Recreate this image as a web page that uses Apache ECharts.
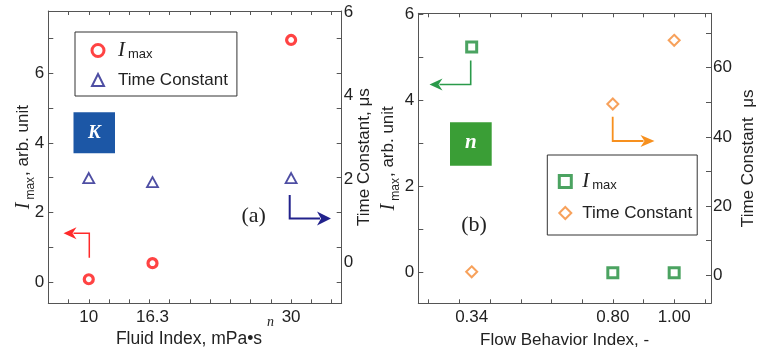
<!DOCTYPE html>
<html><head><meta charset="utf-8">
<script src="https://cdn.jsdelivr.net/npm/echarts@6/dist/echarts.min.js"></script>
<style>html,body{margin:0;padding:0;background:#fff}#c{width:770px;height:358px}</style>
</head><body><div id="c"></div>
<script>
// ---- Panel (a): fluid index K ----
const fluidIndex   = [10, 16.3, 30];
const imaxA        = [0.09, 0.55, 6.95];
const timeConstA   = [2.02, 1.92, 2.02];
// ---- Panel (b): flow behavior index n ----
const flowIndex    = [0.34, 0.80, 1.00];
const imaxB        = [5.24, 0.0, 0.0];
const timeConstB   = [1.0, 49.5, 67.9];
// ---- tick labels ----
const xLabelsA     = [10, 16.3, 30];
const xLabelsB     = [0.34, 0.80, 1.00];
const yLabelsImax  = [0, 2, 4, 6];
const yLabelsTcA   = [0, 2, 4, 6];
const yLabelsTcB   = [0, 20, 40, 60];
// ---- tick marks ----
const xTickMarksA  = [8,10,12,14,16,18,20,22,24,26,28,30,32,34];
const xTickMarksB  = [0.2,0.3,0.4,0.5,0.6,0.7,0.8,0.9,1.0,1.1];
const yTickMarksA  = [0,1,2,3,4,5,6,7];
const yTickMarksB  = [0,1,2,3,4,5,6];
const yTickMarksTcB= [0,10,20,30,40,50,60,70];

const SANS = 'Liberation Sans, Arial, sans-serif';
const SERIF = 'Liberation Serif, Times New Roman, serif';
const TXT = '#222';
const AX = '#555';
const RED = '#ff1414', NAVY = '#22228c', GREEN = '#1e8c3a', ORANGE = '#f58a32';
const pair = (xs, ys) => xs.map((x, i) => [x, ys[i]]);

const chart = echarts.init(document.getElementById('c'), null, {renderer: 'canvas'});

function baseAxis(extra) {
  return Object.assign({
    type: 'value', scale: true, nameMoveOverlap: false,
    axisLine: {show: true, onZero: false, lineStyle: {color: AX, width: 1}},
    splitLine: {show: false},
    axisTick: {show: true, inside: true, length: 5, lineStyle: {color: AX}},
    axisLabel: {color: TXT, fontSize: 17, fontFamily: SANS, margin: 5}
  }, extra);
}

const imaxRich = {
  i: {fontFamily: SERIF, fontStyle: 'italic', fontSize: 20, color: TXT},
  s: {fontFamily: SANS, fontSize: 12, color: TXT, verticalAlign: 'bottom', padding: [14, 1, 0, 3]},
  t: {fontFamily: SANS, fontSize: 17, color: TXT}
};
const legRich = {
  i: {fontFamily: SERIF, fontStyle: 'italic', fontSize: 21, color: TXT},
  s: {fontFamily: SANS, fontSize: 13, color: TXT, verticalAlign: 'bottom', padding: [6, 0, 0, 3]},
  t: {fontFamily: SANS, fontSize: 17, color: TXT}
};
const legFmt = n => n.indexOf('Imax') === 0 ? '{i|I}{s|max}' : '{t|Time Constant}';

function arrow(pts, dir, color, lw, L, W) {
  const tip = pts[pts.length - 1];
  const sx = dir === 'left' ? 1 : -1;
  const line = pts.slice(0, -1).concat([[tip[0] + sx * (L - 3), tip[1]]]);
  return [
    {type: 'polyline', shape: {points: line}, style: {stroke: color, lineWidth: lw, fill: null}, z: 10},
    {type: 'polygon', shape: {points: [[tip[0], tip[1]], [tip[0] + sx * L, tip[1] - W], [tip[0] + sx * (L - 4), tip[1]], [tip[0] + sx * L, tip[1] + W]]},
     style: {fill: color}, z: 10}
  ];
}

const option = {
  animation: false,
  backgroundColor: '#fff',
  grid: [
    {left: 48.3, right: 428.3, top: 11, bottom: 54.7, containLabel: false, outerBoundsMode: 'none'},
    {left: 418.3, right: 59, top: 13.3, bottom: 54.7, containLabel: false, outerBoundsMode: 'none'}
  ],
  xAxis: [
    baseAxis({gridIndex: 0, position: 'bottom', min: 6, max: 35,
      axisTick: {show: true, inside: true, length: 4, customValues: xTickMarksA, lineStyle: {color: AX}},
      axisLabel: {color: TXT, fontSize: 17, fontFamily: SANS, margin: 6, customValues: xLabelsA, formatter: v => String(v)},
      name: '{m|Fluid Index, mPa•s}{sup|n}', nameLocation: 'middle', nameGap: 11,
      nameTextStyle: {color: TXT, fontSize: 17, fontFamily: SANS,
        rich: {
          m: {fontFamily: SANS, fontSize: 17.5, color: TXT, lineHeight: 20, verticalAlign: 'bottom'},
          sup: {fontFamily: SERIF, fontStyle: 'italic', fontSize: 14, color: TXT, verticalAlign: 'top', padding: [1, 0, 19, 5]}
        }}}),
    baseAxis({gridIndex: 0, position: 'top', min: 6, max: 35,
      axisTick: {show: true, inside: true, length: 4, customValues: xTickMarksA, lineStyle: {color: AX}},
      axisLabel: {show: false}}),
    baseAxis({gridIndex: 1, position: 'bottom', min: 0.166, max: 1.12,
      axisTick: {show: true, inside: true, length: 4, customValues: xTickMarksB, lineStyle: {color: AX}},
      axisLabel: {color: TXT, fontSize: 17, fontFamily: SANS, margin: 6, customValues: xLabelsB, formatter: v => v.toFixed(2)},
      name: 'Flow Behavior Index, -', nameLocation: 'middle', nameGap: 27,
      nameTextStyle: {color: TXT, fontSize: 17, fontFamily: SANS, lineHeight: 20}}),
    baseAxis({gridIndex: 1, position: 'top', min: 0.166, max: 1.12,
      axisTick: {show: true, inside: true, length: 4, customValues: xTickMarksB, lineStyle: {color: AX}},
      axisLabel: {show: false}})
  ],
  yAxis: [
    baseAxis({gridIndex: 0, position: 'left', min: -0.6, max: 7.78,
      axisTick: {show: true, inside: true, length: 5, customValues: yTickMarksA, lineStyle: {color: AX}},
      axisLabel: {color: TXT, fontSize: 17, fontFamily: SANS, margin: 4, customValues: yLabelsImax},
      name: '{i|I}{s|max}{t|, arb. unit}', nameLocation: 'middle', nameRotate: 90, nameGap: 12,
      nameTextStyle: {rich: imaxRich}}),
    baseAxis({gridIndex: 0, position: 'right', min: -0.98, max: 6.02,
      axisTick: {show: false},
      axisLabel: {color: TXT, fontSize: 17, fontFamily: SANS, margin: 2, customValues: yLabelsTcA},
      name: 'Time Constant, μs', nameLocation: 'middle', nameRotate: 90, nameGap: 14,
      nameTextStyle: {color: TXT, fontSize: 17, fontFamily: SANS}}),
    baseAxis({gridIndex: 0, position: 'right', min: -0.6, max: 7.78,
      axisLine: {show: false},
      axisTick: {show: true, inside: true, length: 5, customValues: yTickMarksA, lineStyle: {color: AX}},
      axisLabel: {show: false}}),
    baseAxis({gridIndex: 1, position: 'left', min: -0.71, max: 6.02,
      axisTick: {show: true, inside: true, length: 5, customValues: yTickMarksB, lineStyle: {color: AX}},
      axisLabel: {color: TXT, fontSize: 17, fontFamily: SANS, margin: 4, customValues: yLabelsImax},
      name: '{i|I}{s|max}{t|, arb. unit}', nameLocation: 'middle', nameRotate: 90, nameGap: 17,
      nameTextStyle: {rich: imaxRich}}),
    baseAxis({gridIndex: 1, position: 'right', min: -8.1, max: 75.7,
      axisTick: {show: true, inside: true, length: 5, customValues: yTickMarksTcB, lineStyle: {color: AX}},
      axisLabel: {color: TXT, fontSize: 17, fontFamily: SANS, margin: 2, customValues: yLabelsTcB},
      name: 'Time Constant  μs', nameLocation: 'middle', nameRotate: 90, nameGap: 29,
      nameTextStyle: {color: TXT, fontSize: 17, fontFamily: SANS}})
  ],
  legend: [
    {data: [{name: 'Imax (a)', itemStyle: {borderWidth: 3}}, {name: 'Time Constant (a)', itemStyle: {borderWidth: 2}}],
     orient: 'vertical', left: 75, top: 32,
     padding: [8, 9, 6, 15.5], itemGap: 9, itemWidth: 12, itemHeight: 12,
     borderColor: '#333', borderWidth: 1, formatter: legFmt,
     textStyle: {rich: legRich, lineHeight: 20, padding: [0, 0, 0, 9]}},
    {data: [{name: 'Imax (b)', itemStyle: {borderWidth: 3}}, {name: 'Time Constant (b)', itemStyle: {borderWidth: 2}}],
     orient: 'vertical', left: 547.3, top: 155,
     padding: [16, 5, 12, 10.5], itemGap: 11, itemWidth: 12, itemHeight: 12,
     borderColor: '#333', borderWidth: 1, formatter: legFmt,
     textStyle: {rich: legRich, lineHeight: 20, padding: [0, 0, 0, 6]}}
  ],
  series: [
    {name: 'Imax (a)', type: 'scatter', xAxisIndex: 0, yAxisIndex: 0, data: pair(fluidIndex, imaxA),
     symbol: 'circle', symbolSize: 9, itemStyle: {color: '#fff', borderColor: RED, borderWidth: 3.2}},
    {name: 'Time Constant (a)', type: 'scatter', xAxisIndex: 0, yAxisIndex: 1, data: pair(fluidIndex, timeConstA),
     symbol: 'triangle', symbolSize: [11, 10], itemStyle: {color: '#fff', borderColor: NAVY, borderWidth: 1.8}},
    {name: 'Imax (b)', type: 'scatter', xAxisIndex: 2, yAxisIndex: 3, data: pair(flowIndex, imaxB),
     symbol: 'rect', symbolSize: 10, itemStyle: {color: '#fff', borderColor: GREEN, borderWidth: 3}},
    {name: 'Time Constant (b)', type: 'scatter', xAxisIndex: 2, yAxisIndex: 4, data: pair(flowIndex, timeConstB),
     symbol: 'diamond', symbolSize: 11, itemStyle: {color: '#fff', borderColor: ORANGE, borderWidth: 2}}
  ],
  graphic: [
    {type: 'rect', shape: {x: 73.5, y: 112.3, width: 41.5, height: 41}, style: {fill: '#1c57a6'}, z: 5},
    {type: 'text', x: 94.3, y: 133, style: {text: 'K', fill: '#fff', font: 'italic bold 19px ' + SERIF, align: 'center', verticalAlign: 'middle'}, z: 6},
    {type: 'rect', shape: {x: 450, y: 122.3, width: 41.7, height: 43.4}, style: {fill: '#3a9e36'}, z: 5},
    {type: 'text', x: 470.8, y: 143, style: {text: 'n', fill: '#fff', font: 'italic bold 21px ' + SERIF, align: 'center', verticalAlign: 'middle'}, z: 6},
    {type: 'text', x: 253.7, y: 216, style: {text: '(a)', fill: TXT, font: '22px ' + SERIF, align: 'center', verticalAlign: 'middle'}, z: 6},
    {type: 'text', x: 474, y: 225, style: {text: '(b)', fill: TXT, font: '22px ' + SERIF, align: 'center', verticalAlign: 'middle'}, z: 6}
  ].concat(
    arrow([[89.3, 257.7], [89.3, 233.3], [63.5, 233.3]], 'left', '#ff2a2a', 1.5, 13, 6),
    arrow([[289.7, 195], [289.7, 218.5], [331, 218.5]], 'right', NAVY, 2, 14, 7),
    arrow([[470.7, 60.5], [470.7, 84.5], [429.5, 84.5]], 'left', '#2a9a4a', 1.6, 13, 6),
    arrow([[612.7, 116.7], [612.7, 141], [654.5, 141]], 'right', '#f7901e', 1.8, 14, 6)
  )
};
chart.setOption(option);
</script>
</body></html>
